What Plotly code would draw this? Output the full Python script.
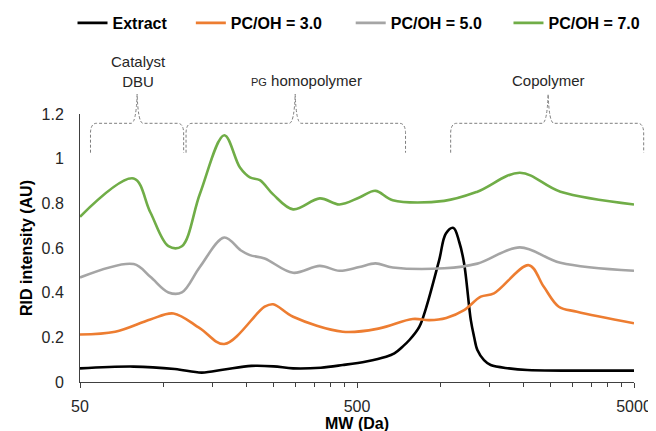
import plotly.graph_objects as go

# ---------------- data ----------------
extract_mw = [50, 78, 110, 137.6, 166, 208, 250, 294, 370, 444, 540, 637, 682, 730, 773, 839, 887, 990, 1047, 1115, 1169, 1218, 1288, 1323, 1360, 1437, 1519, 1768, 2058, 5000]
extract_v = [0.061, 0.069, 0.058, 0.042, 0.056, 0.072, 0.070, 0.061, 0.064, 0.076, 0.092, 0.113, 0.128, 0.158, 0.188, 0.247, 0.330, 0.546, 0.665, 0.690, 0.628, 0.531, 0.277, 0.203, 0.143, 0.098, 0.076, 0.061, 0.054, 0.051]

pc3_mw = [50, 67, 89.7, 108.8, 135.6, 165.9, 232, 249, 294, 444, 602, 794, 912, 1050, 1218, 1399, 1561, 2087, 2363, 2676, 3113, 5000]
pc3_v = [0.213, 0.225, 0.280, 0.307, 0.240, 0.170, 0.337, 0.348, 0.292, 0.225, 0.240, 0.282, 0.277, 0.287, 0.322, 0.382, 0.397, 0.523, 0.426, 0.337, 0.315, 0.263]

pc5_mw = [50, 78.1, 89.7, 104.3, 116.6, 135.6, 165.9, 190, 205.3, 232, 294, 367, 432, 510, 583, 673, 1032, 1360, 1936, 2713, 5000]
pc5_v = [0.468, 0.528, 0.471, 0.401, 0.401, 0.516, 0.647, 0.590, 0.568, 0.553, 0.489, 0.520, 0.498, 0.515, 0.531, 0.513, 0.509, 0.530, 0.603, 0.534, 0.498]

pc7_mw = [50, 78.1, 89.7, 104.3, 116.6, 135.6, 165.9, 189, 205.3, 223, 249, 294, 367, 432, 510, 583, 673, 1032, 1360, 1936, 2713, 5000]
pc7_v = [0.740, 0.911, 0.760, 0.608, 0.608, 0.844, 1.105, 0.960, 0.916, 0.904, 0.840, 0.773, 0.822, 0.795, 0.826, 0.856, 0.814, 0.811, 0.852, 0.937, 0.852, 0.795]

series_names = ["Extract", "PC/OH = 3.0", "PC/OH = 5.0", "PC/OH = 7.0"]
series_colors = ["#000000", "#ED7D31", "#A5A5A5", "#70AD47"]

x_tickvals = [50, 500, 5000]
x_ticktext = ["50", "500", "5000"]
x_minor = [100, 150, 200, 250, 300, 350, 400, 450, 1000, 1500, 2000, 2500, 3000, 3500, 4000, 4500]
y_tickvals = [0, 0.2, 0.4, 0.6, 0.8, 1.0, 1.2]
y_ticktext = ["0", "0.2", "0.4", "0.6", "0.8", "1", "1.2"]

# ---------------- figure ----------------
W, H = 656, 431
OFF = 8  # page offset of the figure inside the browser window
# target plot area in window pixels: x 79.5..634.3, y 114..382
L = 79.5 - OFF
R = W - (634.3 - OFF)
T = 114 - OFF
B = H - (382 - OFF)
PW, PH = W - L - R, H - T - B


def px(X):
    """window pixel x -> paper fraction"""
    return (X - OFF - L) / PW


def py(Y):
    """window pixel y -> paper fraction"""
    return (H - B - (Y - OFF)) / PH


fig = go.Figure()
all_x = [extract_mw, pc3_mw, pc5_mw, pc7_mw]
all_y = [extract_v, pc3_v, pc5_v, pc7_v]
legend_ids = ["legend", "legend2", "legend3", "legend4"]
for xs, ys, name, col, lg in zip(all_x, all_y, series_names, series_colors, legend_ids):
    fig.add_trace(go.Scatter(x=xs, y=ys, mode="lines", name=name, showlegend=True,
                             line=dict(color=col, width=2.6, shape="spline", smoothing=1.0),
                             legend=lg, hoverinfo="skip"))

legend_left_px = [72, 190.5, 350.6, 508.6]
leg_font = dict(family="Liberation Sans, Arial, sans-serif", size=16, color="#000000", weight="bold")
legend_kw = {}
for lg, lx in zip(legend_ids, legend_left_px):
    legend_kw[lg] = dict(x=px(lx), y=py(23), xanchor="left", yanchor="middle",
                         orientation="h", font=leg_font, bgcolor="rgba(0,0,0,0)",
                         borderwidth=0, itemwidth=30)


def brace(x0, x1, xm, yb=152.7, yh=123.3, ytip=94):
    pts = [
        f"M {px(x0)},{py(yb)}",
        f"L {px(x0)},{py(yh + 9)}",
        f"Q {px(x0 + 0.5)},{py(yh)} {px(x0 + 6)},{py(yh)}",
        f"L {px(xm - 6)},{py(yh)}",
        f"Q {px(xm - 1)},{py(yh)} {px(xm)},{py(ytip)}",
        f"Q {px(xm + 1)},{py(yh)} {px(xm + 6)},{py(yh)}",
        f"L {px(x1 - 6)},{py(yh)}",
        f"Q {px(x1 - 0.5)},{py(yh)} {px(x1)},{py(yh + 9)}",
        f"L {px(x1)},{py(yb)}",
    ]
    return " ".join(pts)


shapes = []
for (a, b, m) in [(90, 183.3, 136.7), (185.7, 405.5, 295), (450.7, 644, 548.3)]:
    shapes.append(dict(type="path", xref="paper", yref="paper", path=brace(a, b, m),
                       line=dict(color="#7F7F7F", width=1, dash="3px,2px")))

ann_font = dict(family="Liberation Sans, Arial, sans-serif", size=15, color="#262626")
annotations = [
    dict(x=px(138), y=py(71), xref="paper", yref="paper", text="Catalyst<br>DBU",
         showarrow=False, font=ann_font, xanchor="center", yanchor="middle"),
    dict(x=px(306), y=py(80), xref="paper", yref="paper",
         text="<span style='font-size:11px'>PG</span> homopolymer",
         showarrow=False, font=ann_font, xanchor="center", yanchor="middle"),
    dict(x=px(549), y=py(80), xref="paper", yref="paper", text="Copolymer",
         showarrow=False, font=ann_font, xanchor="center", yanchor="middle"),
]

axis_col = "#404040"
tick_font = dict(family="Liberation Sans, Arial, sans-serif", size=16, color="#262626")
title_font = dict(family="Liberation Sans, Arial, sans-serif", size=16, color="#000000", weight="bold")

fig.update_layout(
    width=W, height=H,
    margin=dict(l=L, r=R, t=T, b=B, pad=0, autoexpand=False),
    paper_bgcolor="white", plot_bgcolor="white",
    showlegend=True,
    shapes=shapes, annotations=annotations,
    **legend_kw,
    xaxis=dict(type="log", range=[1.69897, 3.69897],
               tickvals=x_tickvals, ticktext=x_ticktext,
               ticks="outside", ticklen=5, tickwidth=1, tickcolor=axis_col,
               minor=dict(tickvals=x_minor, ticks="outside", ticklen=4, tickwidth=1, tickcolor=axis_col),
               showline=True, linecolor=axis_col, linewidth=1,
               showgrid=False, zeroline=False, tickfont=tick_font, ticklabelstandoff=5,
               title=dict(text="MW (Da)", font=title_font, standoff=0)),
    yaxis=dict(range=[0, 1.2], tickvals=y_tickvals, ticktext=y_ticktext,
               ticks="", showline=True, linecolor=axis_col, linewidth=1,
               showgrid=False, zeroline=False, tickfont=tick_font, ticklabelstandoff=12,
               title=dict(text="RID intensity (AU)", font=title_font, standoff=4)),
)

fig.write_html("out.html")
